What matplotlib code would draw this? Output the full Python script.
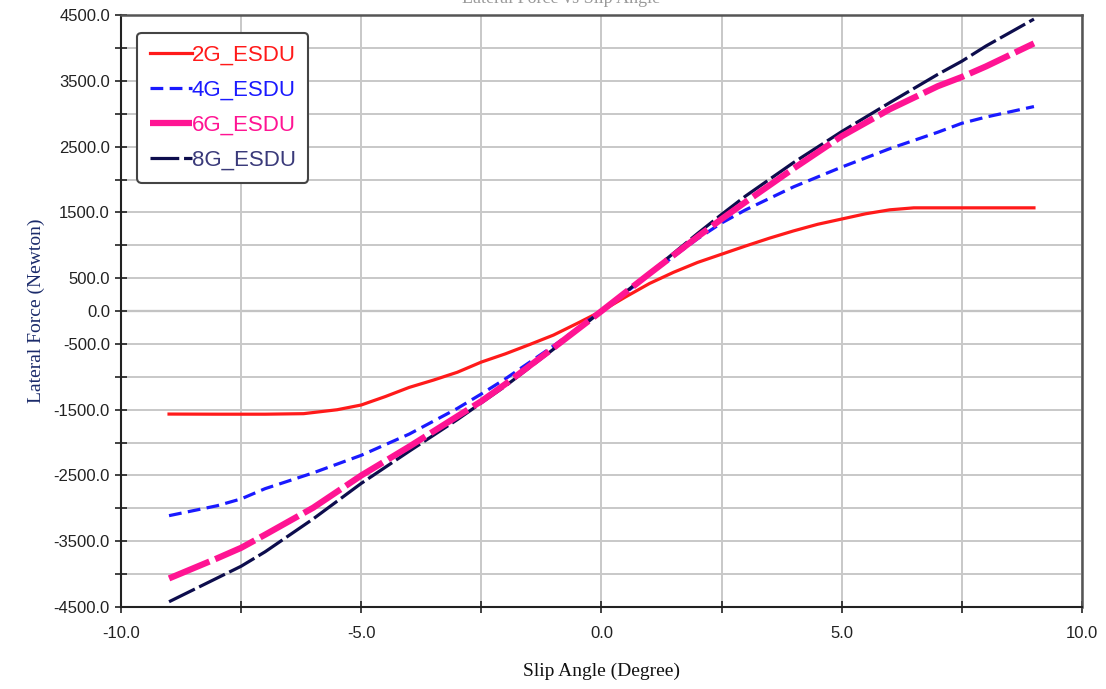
import matplotlib
matplotlib.use('Agg')

import matplotlib.pyplot as plt
from matplotlib.ticker import MultipleLocator, FixedLocator, FuncFormatter

# Données (angle de dérive en degrés, force latérale en N)
slip_2g = [-9, -8, -7, -6.2, -5.5, -5, -4.5, -4, -3.5, -3, -2.5, -2, -1.5, -1, -0.5, 0,
           0.5, 1, 1.5, 2, 2.5, 3, 3.5, 4, 4.5, 5, 5.5, 6, 6.5, 7, 8, 9]
force_2g = [-1566, -1568, -1568, -1560, -1500, -1428, -1300, -1160, -1050, -930, -775, -650,
            -510, -365, -185, 0, 215, 420, 590, 740, 865, 990, 1110, 1220, 1320, 1400, 1480,
            1540, 1570, 1570, 1570, 1570]

slip_4g = [-9, -8, -7.5, -7, -6, -5, -4, -3, -2.5, -2, -1, 0,
           1, 2, 2.5, 3, 4, 5, 6, 7, 7.5, 8, 9]
force_4g = [-3111, -2960, -2856, -2700, -2460, -2193, -1870, -1480, -1260, -1030, -530, 0,
            560, 1100, 1340, 1540, 1890, 2190, 2470, 2720, 2856, 2950, 3110]

slip_6g = [-9, -8, -7.5, -7, -6, -5, -4, -3, -2.5, -2, -1, 0,
           1, 2, 2.5, 3, 4, 5, 6, 7, 7.5, 8, 9]
force_6g = [-4065, -3760, -3600, -3400, -2990, -2500, -2060, -1600, -1370, -1110, -560, 0,
            570, 1130, 1400, 1660, 2170, 2660, 3070, 3420, 3560, 3720, 4070]

slip_8g = [-9, -8, -7.5, -7, -6, -5, -4, -3, -2, -1, 0,
           1, 2, 2.5, 3, 4, 5, 6, 7, 7.5, 8, 9]
force_8g = [-4420, -4060, -3880, -3660, -3160, -2620, -2130, -1650, -1140, -580, 0,
            580, 1180, 1470, 1750, 2260, 2730, 3170, 3600, 3800, 4030, 4440]

y_labels = [-4500, -3500, -2500, -1500, -500, 0, 500, 1500, 2500, 3500, 4500]

sans = ['Liberation Sans', 'DejaVu Sans']
serif = ['Liberation Serif', 'DejaVu Serif']

fig = plt.figure(figsize=(11.06, 6.89), dpi=100)
ax = fig.add_axes([0.1094, 0.119, 0.8689, 0.859])

# Grille
ax.xaxis.set_major_locator(MultipleLocator(5))
ax.xaxis.set_minor_locator(MultipleLocator(2.5))
ax.yaxis.set_major_locator(FixedLocator(y_labels))
ax.yaxis.set_minor_locator(MultipleLocator(500))
ax.grid(True, which='both', color='#c8c8c8', linewidth=1.4, zorder=0)
ax.axhline(0, color='#222222', linewidth=1.5, zorder=1)

# Courbes
ax.plot(slip_2g, force_2g, color='#ff1a1a', linewidth=2.3, label='2G_ESDU', zorder=3)
ax.plot(slip_4g, force_4g, color='#1a1aff', linewidth=2.3, linestyle=(0, (4, 2)),
        label='4G_ESDU', zorder=3)
ax.plot(slip_8g, force_8g, color='#0d0d4d', linewidth=2.3, linestyle=(0, (9, 1.5)),
        label='8G_ESDU', zorder=4)
ax.plot(slip_6g, force_6g, color='#ff1493', linewidth=4.5, linestyle=(0, (7, 1)),
        label='6G_ESDU', zorder=5)

ax.set_xlim(-10, 10)
ax.set_ylim(-4500, 4500)

ax.xaxis.set_major_formatter(FuncFormatter(lambda v, p: f'{v:.1f}'))
ax.yaxis.set_major_formatter(FuncFormatter(lambda v, p: f'{v:.1f}'))
ax.tick_params(which='major', direction='inout', length=9, width=1.2, colors='#222222',
               labelsize=12)
ax.tick_params(which='minor', direction='inout', length=9, width=1.2, colors='#222222')
for lab in ax.get_xticklabels() + ax.get_yticklabels():
    lab.set_family(sans)
    lab.set_color('#222222')
ax.tick_params(axis='x', pad=9)

for side in ['left', 'bottom']:
    ax.spines[side].set_color('#222222')
    ax.spines[side].set_linewidth(1.5)
for side in ['top', 'right']:
    ax.spines[side].set_color('#555555')
    ax.spines[side].set_linewidth(1.8)

# Titres
ax.set_xlabel('Slip Angle (Degree)', fontsize=14, family=serif, color='#111111', labelpad=16)
ax.set_ylabel('Lateral Force (Newton)', fontsize=14, family=serif, color='#1a2a6a', labelpad=6)
fig.text(0.507, 1.002, 'Lateral Force vs Slip Angle', fontsize=13, family=serif,
         color='#9a9a9a', ha='center', va='center')

# Légende
handles, labels = ax.get_legend_handles_labels()
order = [0, 1, 3, 2]
leg = ax.legend([handles[i] for i in order], [labels[i] for i in order],
                loc='upper left', bbox_to_anchor=(0.017, 0.97),
                prop={'family': sans, 'size': 16}, handlelength=1.9, handletextpad=0.0,
                labelspacing=0.62, borderpad=0.55, borderaxespad=0, fancybox=True,
                framealpha=1, edgecolor='#444444')
leg.get_frame().set_linewidth(1.5)
for text, c in zip(leg.get_texts(), ['#ff1a1a', '#1a1aff', '#ff1493', '#3a3a7a']):
    text.set_color(c)

fig.savefig('out.png', dpi=100, facecolor='white')
plt.close(fig)
